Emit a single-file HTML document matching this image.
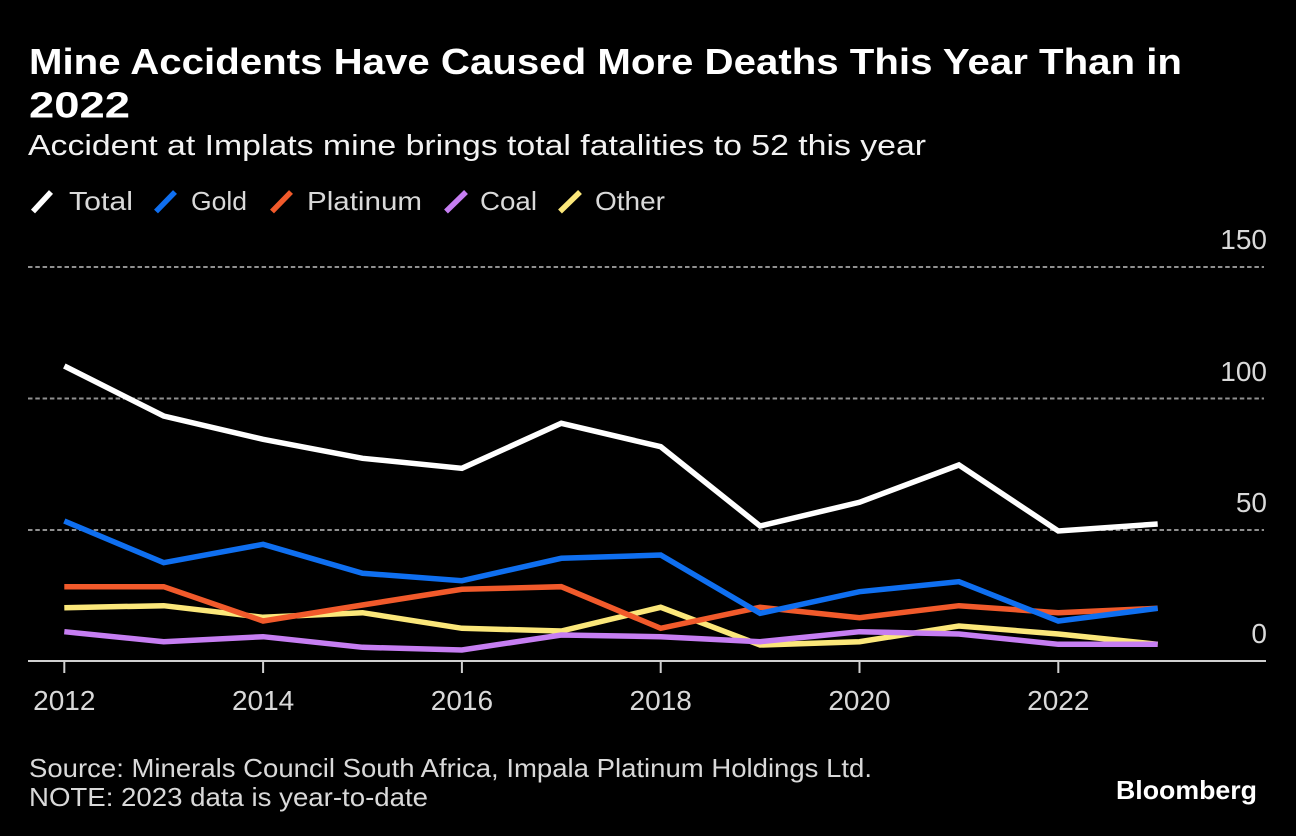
<!DOCTYPE html>
<html>
<head>
<meta charset="utf-8">
<style>
html,body{margin:0;padding:0;background:#000;}
svg{display:block;}
text{font-family:"Liberation Sans",sans-serif;}
</style>
</head>
<body>
<svg width="1296" height="836" viewBox="0 0 1296 836" xmlns="http://www.w3.org/2000/svg">
<rect x="0" y="0" width="1296" height="836" fill="#000"/>

<!-- Title -->
<text x="29" y="74" font-size="36" font-weight="bold" fill="#fff" textLength="1153" lengthAdjust="spacingAndGlyphs">Mine Accidents Have Caused More Deaths This Year Than in</text>
<text x="29" y="117.5" font-size="36" font-weight="bold" fill="#fff" textLength="101" lengthAdjust="spacingAndGlyphs">2022</text>
<!-- Subtitle -->
<text x="28" y="155" font-size="29" fill="#f2f2f2" textLength="898" lengthAdjust="spacingAndGlyphs">Accident at Implats mine brings total fatalities to 52 this year</text>

<!-- Legend -->
<g stroke-width="5.5" stroke-linecap="butt">
  <line x1="33" y1="211.5" x2="51" y2="192" stroke="#ffffff"/>
  <line x1="156" y1="211.5" x2="175" y2="192" stroke="#0f6ff0"/>
  <line x1="272" y1="211.5" x2="291" y2="192" stroke="#f15a2b"/>
  <line x1="446" y1="211.5" x2="466" y2="192" stroke="#c67ef2"/>
  <line x1="560" y1="211.5" x2="580" y2="192" stroke="#fbe77a"/>
</g>
<g font-size="26" fill="#d9d9d9">
  <text x="69" y="210" textLength="64" lengthAdjust="spacingAndGlyphs">Total</text>
  <text x="191" y="210" textLength="56" lengthAdjust="spacingAndGlyphs">Gold</text>
  <text x="307" y="210" textLength="115" lengthAdjust="spacingAndGlyphs">Platinum</text>
  <text x="480" y="210" textLength="57" lengthAdjust="spacingAndGlyphs">Coal</text>
  <text x="595" y="210" textLength="70" lengthAdjust="spacingAndGlyphs">Other</text>
</g>

<!-- Gridlines -->
<g stroke="#909090" stroke-width="2" stroke-dasharray="4.5 2.8">
  <line x1="28" y1="267" x2="1264" y2="267"/>
  <line x1="28" y1="398.5" x2="1264" y2="398.5"/>
  <line x1="28" y1="530" x2="1264" y2="530"/>
</g>

<!-- Y labels -->
<g font-size="28" fill="#d9d9d9" text-anchor="end">
  <text x="1267" y="249">150</text>
  <text x="1267" y="381">100</text>
  <text x="1267" y="512">50</text>
  <text x="1267" y="643">0</text>
</g>

<!-- Axis -->
<line x1="28" y1="661" x2="1266" y2="661" stroke="#d0d0d0" stroke-width="2"/>
<g stroke="#d0d0d0" stroke-width="2">
  <line x1="64.3" y1="661" x2="64.3" y2="673"/>
  <line x1="263.1" y1="661" x2="263.1" y2="673"/>
  <line x1="461.9" y1="661" x2="461.9" y2="673"/>
  <line x1="660.7" y1="661" x2="660.7" y2="673"/>
  <line x1="859.5" y1="661" x2="859.5" y2="673"/>
  <line x1="1058.3" y1="661" x2="1058.3" y2="673"/>
</g>
<g font-size="28" fill="#d9d9d9" text-anchor="middle">
  <text x="64.3" y="710">2012</text>
  <text x="263.1" y="710">2014</text>
  <text x="461.9" y="710">2016</text>
  <text x="660.7" y="710">2018</text>
  <text x="859.5" y="710">2020</text>
  <text x="1058.3" y="710">2022</text>
</g>

<!-- Series -->
<g fill="none" stroke-width="5.5" stroke-linejoin="miter" stroke-linecap="butt">
  <!-- Other -->
  <polyline stroke="#fbe77a" points="64.3,607.7 163.7,605.7 263.1,617.3 362.5,612.7 461.9,628.3 561.3,631 660.7,607.3 760.1,645 859.5,641.7 958.9,626 1058.3,634 1157.7,644.3"/>
  <!-- Coal -->
  <polyline stroke="#c67ef2" points="64.3,631.7 163.7,641.7 263.1,636.7 362.5,647.3 461.9,650 561.3,635 660.7,636.7 760.1,641.7 859.5,631.7 958.9,634 1058.3,644.3 1157.7,644.3"/>
  <!-- Platinum -->
  <polyline stroke="#f15a2b" points="64.3,586.7 163.7,586.7 263.1,621 362.5,605 461.9,589.3 561.3,586.7 660.7,628.3 760.1,607.3 859.5,617.7 958.9,605.7 1058.3,612.7 1157.7,608.3"/>
  <!-- Gold -->
  <polyline stroke="#0f6ff0" points="64.3,521 163.7,562.7 263.1,544.3 362.5,573.3 461.9,580.7 561.3,558.3 660.7,555 760.1,613.3 859.5,591.7 958.9,581.7 1058.3,621 1157.7,608.3"/>
  <!-- Total -->
  <polyline stroke="#ffffff" points="64.3,366 163.7,416 263.1,439.3 362.5,458.3 461.9,468.3 561.3,423.3 660.7,446.7 760.1,526 859.5,502.3 958.9,465 1058.3,531 1157.7,524"/>
</g>

<!-- Footer -->
<g font-size="26" fill="#d9d9d9">
  <text x="29" y="777" textLength="843" lengthAdjust="spacingAndGlyphs">Source: Minerals Council South Africa, Impala Platinum Holdings Ltd.</text>
  <text x="29" y="806" textLength="399" lengthAdjust="spacingAndGlyphs">NOTE: 2023 data is year-to-date</text>
</g>
<text x="1116" y="799" font-size="26" font-weight="bold" fill="#fff" textLength="141" lengthAdjust="spacingAndGlyphs">Bloomberg</text>
</svg>
</body>
</html>
